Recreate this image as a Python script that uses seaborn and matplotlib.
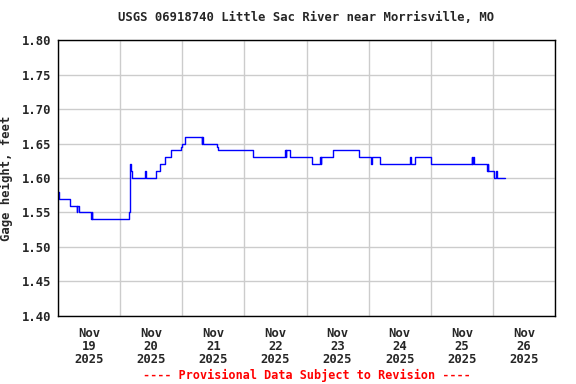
import pandas as pd
import matplotlib
matplotlib.use("Agg")
import matplotlib.pyplot as plt
import seaborn as sns

# gage height readings (change points, step series)
times = [
    "2025-11-19 00:00", "2025-11-19 00:30", "2025-11-19 04:30", "2025-11-19 07:15",
    "2025-11-19 07:30", "2025-11-19 08:00", "2025-11-19 12:45", "2025-11-19 13:00",
    "2025-11-19 13:15", "2025-11-20 03:30", "2025-11-20 03:45", "2025-11-20 04:00",
    "2025-11-20 04:15", "2025-11-20 04:30", "2025-11-20 09:30", "2025-11-20 10:00",
    "2025-11-20 14:00", "2025-11-20 15:30", "2025-11-20 17:30", "2025-11-20 19:30",
    "2025-11-20 23:30", "2025-11-21 00:00", "2025-11-21 01:15", "2025-11-21 07:30",
    "2025-11-21 07:45", "2025-11-21 08:00", "2025-11-21 13:15", "2025-11-21 13:45",
    "2025-11-22 03:15", "2025-11-22 15:45", "2025-11-22 16:00", "2025-11-22 16:15",
    "2025-11-22 17:30", "2025-11-23 02:00", "2025-11-23 05:15", "2025-11-23 05:30",
    "2025-11-23 05:45", "2025-11-23 10:15", "2025-11-23 20:15", "2025-11-24 01:00",
    "2025-11-24 01:15", "2025-11-24 04:30", "2025-11-24 16:00", "2025-11-24 16:15",
    "2025-11-24 17:45", "2025-11-25 00:15", "2025-11-25 15:45", "2025-11-25 16:00",
    "2025-11-25 16:15", "2025-11-25 16:45", "2025-11-25 21:45", "2025-11-25 22:00",
    "2025-11-25 22:15", "2025-11-26 00:30", "2025-11-26 01:15", "2025-11-26 01:45",
    "2025-11-26 04:45",
]
heights = [
    1.58, 1.57, 1.56, 1.55,
    1.56, 1.55, 1.54, 1.55,
    1.54, 1.55, 1.61, 1.62,
    1.61, 1.60, 1.61, 1.60,
    1.61, 1.62, 1.63, 1.64,
    1.645, 1.65, 1.66, 1.65,
    1.66, 1.65, 1.645, 1.64,
    1.63, 1.64, 1.63, 1.64,
    1.63, 1.62, 1.63, 1.62,
    1.63, 1.64, 1.63, 1.62,
    1.63, 1.62, 1.63, 1.62,
    1.63, 1.62, 1.63, 1.62,
    1.63, 1.62, 1.61, 1.62,
    1.61, 1.60, 1.61, 1.60,
    1.60,
]

y_ticks = [1.40, 1.45, 1.50, 1.55, 1.60, 1.65, 1.70, 1.75, 1.80]
day_labels = ["Nov\n19\n2025", "Nov\n20\n2025", "Nov\n21\n2025", "Nov\n22\n2025",
              "Nov\n23\n2025", "Nov\n24\n2025", "Nov\n25\n2025", "Nov\n26\n2025"]

df = pd.DataFrame({"time": pd.to_datetime(times), "height": heights})

sns.set_style("white")
plt.rcParams["font.family"] = ["DejaVu Sans Mono"]
plt.rcParams["font.weight"] = "bold"
fs = 8.8

fig = plt.figure(figsize=(5.76, 3.84), dpi=100)
ax = fig.add_axes([58 / 576, 68 / 384, 497 / 576, 276 / 384])

sns.lineplot(data=df, x="time", y="height", ax=ax, color="#0000FF",
             linewidth=1, drawstyle="steps-post")

start = pd.Timestamp("2025-11-19 00:00")
end = pd.Timestamp("2025-11-27 00:00")
ax.set_xlim(start, end)
ax.set_ylim(1.40, 1.80)

midnights = pd.date_range(start, end, freq="D")
noons = midnights[:-1] + pd.Timedelta(hours=12)
ax.set_xticks(midnights)
ax.set_xticklabels([""] * len(midnights))
ax.set_xticks(noons, minor=True)
ax.set_xticklabels(day_labels, minor=True, fontsize=fs, fontweight="bold",
                   linespacing=1.0)
ax.tick_params(axis="x", which="both", length=0, pad=8)

ax.set_yticks(y_ticks)
ax.set_yticklabels([f"{v:.2f}" for v in y_ticks], fontsize=fs, fontweight="bold")
ax.tick_params(axis="y", length=0, pad=5)

ax.grid(True, which="major", color="#CCCCCC", linewidth=1)
ax.set_axisbelow(True)
for s in ax.spines.values():
    s.set_color("black")
    s.set_linewidth(1)

ax.set_xlabel("")
ax.set_ylabel("Gage height, feet", fontsize=fs, fontweight="bold", labelpad=6)
ax.set_title("USGS 06918740 Little Sac River near Morrisville, MO",
             fontsize=fs, fontweight="bold", pad=14)

fig.text(307 / 576, 1 - 375 / 384, "---- Provisional Data Subject to Revision ----",
         color="red", fontsize=8.5, fontweight="bold", ha="center", va="center")

fig.savefig("out.png", dpi=100)
